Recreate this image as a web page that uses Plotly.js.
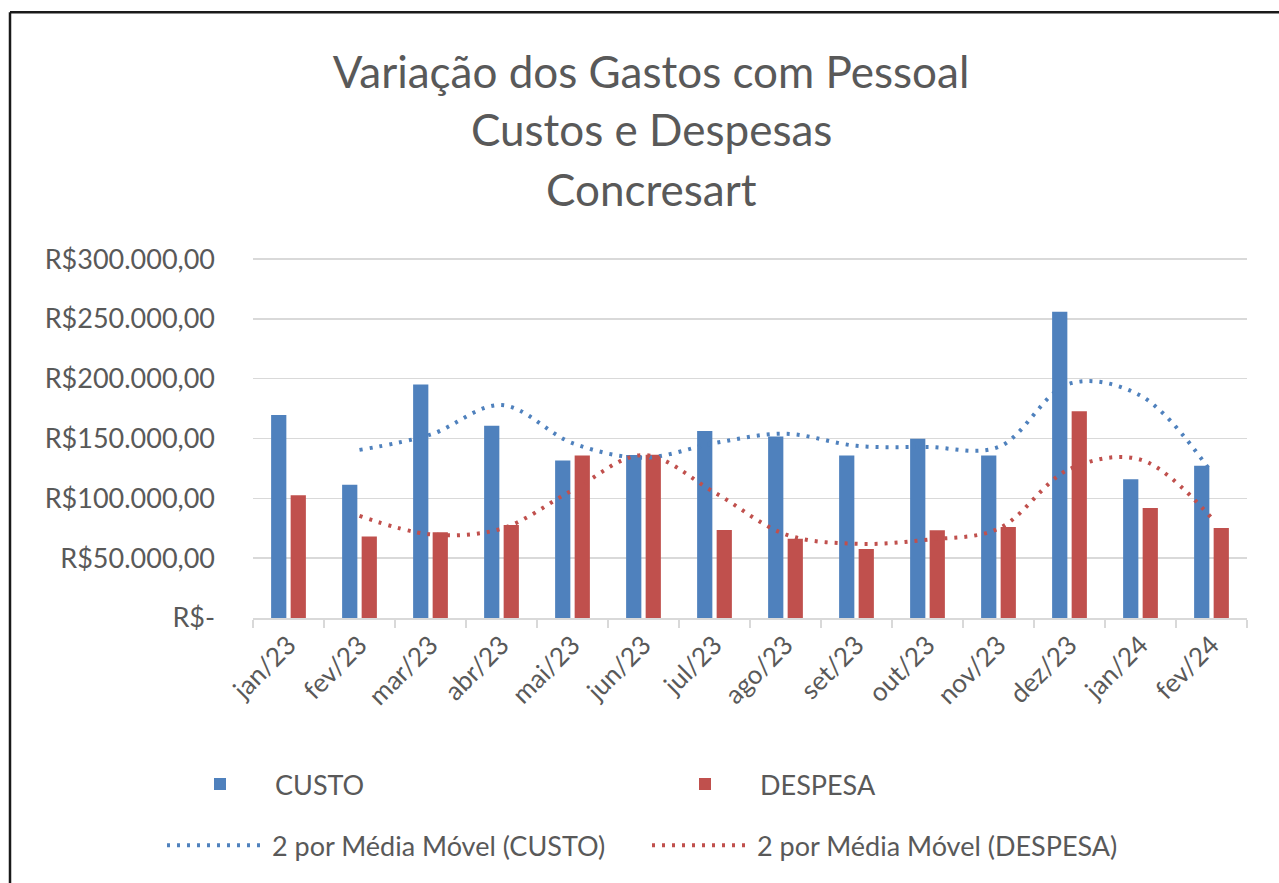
<!DOCTYPE html>
<html>
<head>
<meta charset="utf-8">
<script src="https://cdn.plot.ly/plotly-3.0.1.min.js"></script>
<style>
html,body{margin:0;padding:0;background:#fff;}
#chart{width:1279px;height:883px;}
</style>
</head>
<body>
<div id="chart"></div>
<script>
const categories = ['jan/23','fev/23','mar/23','abr/23','mai/23','jun/23','jul/23','ago/23','set/23','out/23','nov/23','dez/23','jan/24','fev/24'];
const custo = [169600, 111400, 195200, 160700, 131700, 136200, 156200, 151800, 135900, 149800, 135900, 255900, 115900, 127200];
const despesa = [102500, 68200, 71600, 77700, 135900, 136500, 73500, 66300, 57600, 73300, 76000, 172900, 91900, 75200];
const maCategories = ['fev/23','mar/23','abr/23','mai/23','jun/23','jul/23','ago/23','set/23','out/23','nov/23','dez/23','jan/24','fev/24'];
const maCusto = [140500, 153300, 178000, 146200, 134000, 146200, 154000, 143900, 142900, 142900, 195900, 185900, 121600];
const maDespesa = [85400, 69900, 74700, 106800, 136200, 105000, 69900, 62000, 65500, 74700, 124500, 132400, 83600];
const yTickVals = [0, 50000, 100000, 150000, 200000, 250000, 300000];
const yTickText = ['R$-', 'R$50.000,00', 'R$100.000,00', 'R$150.000,00', 'R$200.000,00', 'R$250.000,00', 'R$300.000,00'];
const titleLines = ['Variação dos Gastos com Pessoal', 'Custos e Despesas', 'Concresart'];
const names = ['CUSTO', 'DESPESA', '2 por Média Móvel (CUSTO)', '2 por Média Móvel (DESPESA)'];

const BLUE = '#4F81BD', RED = '#C0504D', TXT = '#595959', GRID = '#D9D9D9';
const FONT = 'Lato, "Open Sans", sans-serif';

const traces = [
  {type:'bar', x:categories, y:custo, name:names[0], marker:{color:BLUE}, legend:'legend'},
  {type:'bar', x:categories, y:despesa, name:names[1], marker:{color:RED}, legend:'legend'},
  {type:'scatter', mode:'lines', x:maCategories, y:maCusto, name:names[2],
   line:{color:BLUE, width:4, dash:'3px,7px', shape:'spline', smoothing:1}, legend:'legend2'},
  {type:'scatter', mode:'lines', x:maCategories, y:maDespesa, name:names[3],
   line:{color:RED, width:4, dash:'3px,7px', shape:'spline', smoothing:1}, legend:'legend2'}
];

const L = 253, R = 1247, T = 259, B = 618;
const py = v => (B - v) / (B - T);
const px = v => (v - L) / (R - L);

const layout = {
  width:1279, height:883,
  margin:{l:L, r:1279-R, t:T-1, b:883-B},
  paper_bgcolor:'#fff', plot_bgcolor:'#fff',
  font:{family:FONT, color:TXT},
  title:{text:titleLines[0], font:{size:44, color:TXT, family:FONT},
         x:651/1279, xref:'container', xanchor:'center', y:1-73/883, yref:'container', yanchor:'middle'},
  annotations:[
    {text:titleLines[1], xref:'paper', yref:'paper', x:px(651), y:py(130), xanchor:'center', yanchor:'middle', showarrow:false, font:{size:44, color:TXT, family:FONT}},
    {text:titleLines[2], xref:'paper', yref:'paper', x:px(651), y:py(190), xanchor:'center', yanchor:'middle', showarrow:false, font:{size:44, color:TXT, family:FONT}}
  ],
  barmode:'group', bargap:0.45, bargroupgap:0.22,
  xaxis:{type:'category', tickangle:-45, tickfont:{size:26, color:TXT},
         showgrid:false, showline:true, linecolor:GRID, linewidth:1.5,
         ticks:'outside', tickson:'boundaries', ticklen:8, tickcolor:GRID, tickwidth:1.5,
         fixedrange:true},
  yaxis:{range:[0,300900], tickvals:yTickVals, ticktext:yTickText, tickfont:{size:27, color:TXT},
         showgrid:true, gridcolor:GRID, gridwidth:1.5, zeroline:false, showline:false,
         ticklabelstandoff:37, fixedrange:true},
  legend:{orientation:'h', x:px(165), y:py(784), xanchor:'left', yanchor:'middle', itemwidth:100,
          entrywidth:370, entrywidthmode:'pixels', font:{size:27, color:TXT}, bgcolor:'rgba(0,0,0,0)'},
  legend2:{orientation:'h', x:px(162), y:py(845), xanchor:'left', yanchor:'middle', itemwidth:100,
          entrywidth:370, entrywidthmode:'pixels', font:{size:27, color:TXT}, bgcolor:'rgba(0,0,0,0)'},
  shapes:[
    {type:'line', xref:'paper', yref:'paper', x0:px(10), x1:px(1300), y0:py(14), y1:py(14), line:{color:'#1a1a1a', width:2.5}},
    {type:'line', xref:'paper', yref:'paper', x0:px(10), x1:px(10), y0:py(14), y1:py(900), line:{color:'#1a1a1a', width:2.5}}
  ],
  showlegend:true
};

Plotly.newPlot('chart', traces, layout, {displayModeBar:false, staticPlot:true});
</script>
</body>
</html>
